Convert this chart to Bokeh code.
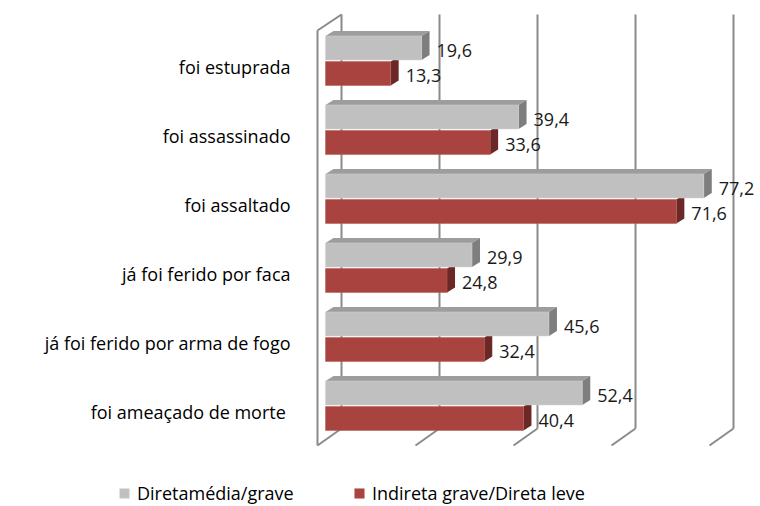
import numpy as np
from bokeh.plotting import figure
from bokeh.models import Range1d, Legend, LegendItem
from bokeh.core.properties import value
from bokeh.embed import file_html
from bokeh.resources import INLINE

# ---- data ----
categories = ["foi estuprada", "foi assassinado", "foi assaltado",
              "já foi ferido por faca", "já foi ferido por arma de fogo",
              "foi ameaçado  de morte"]
direta_media_grave = [19.6, 39.4, 77.2, 29.9, 45.6, 52.4]
indireta_grave_direta_leve = [13.3, 33.6, 71.6, 24.8, 32.4, 40.4]
series_names = ["Diretamédia/grave", "Indireta grave/Direta leve"]
grid_values = [0, 20, 40, 60, 80]

# ---- geometry (pixel scale of the value axis and of one category row) ----
PX_X = 4.9      # pixels per value unit
PX_ROW = 69.0   # pixels per category row
X0_PX = 325.0   # x of value 0 on the bars' front plane
Y0_PX = 60.5    # y of first category centre

def xd(px):
    return (px - X0_PX) / PX_X

def yd(py):
    return (py - Y0_PX) / PX_ROW

W, H = 760, 506
p = figure(width=W, height=H, output_backend="svg", toolbar_location=None,
           x_range=Range1d(xd(0), xd(W)), y_range=Range1d(yd(H), yd(0)),
           x_axis_type=None, y_axis_type=None, min_border=0)
p.outline_line_color = None
p.xgrid.visible = False
p.ygrid.visible = False
p.background_fill_color = "white"

FONT = "Open Sans"
GRID_COL = "#8a8a8a"

# ---- 3D walls and gridlines ----
back_off = xd(341)       # back wall zero offset
front_off = xd(317)      # front floor zero offset
yb_top, yb_bot, yf_bot, yf_top = yd(14), yd(428), yd(445), yd(30)
gv = np.array(grid_values, dtype=float)
p.segment(x0=gv + back_off, y0=[yb_top] * len(gv), x1=gv + back_off, y1=[yb_bot] * len(gv),
          line_color=GRID_COL, line_width=2)
p.segment(x0=gv + front_off, y0=[yf_bot] * len(gv), x1=gv + back_off, y1=[yb_bot] * len(gv),
          line_color=GRID_COL, line_width=2)
p.segment(x0=[front_off, front_off], y0=[yf_top, yf_top], x1=[front_off, back_off],
          y1=[yf_bot, yb_top], line_color=GRID_COL, line_width=2)

# ---- bars ----
rows = np.arange(len(categories), dtype=float)
bar_h = 24.0 / PX_ROW
gray_c = rows - 13.0 / PX_ROW
red_c = rows + 12.5 / PX_ROW
dx = 8.0 / PX_X
dy = 5.0 / PX_ROW

g_vals = np.array(direta_media_grave)
r_vals = np.array(indireta_grave_direta_leve)

GRAY_FRONT, GRAY_TOP, GRAY_SIDE = "#c0c0c0", "#9d9d9d", "#7e7e7e"
RED_FRONT, RED_SIDE = "#a8433f", "#6c2826"

def side_faces(vals, centres):
    xs, ys = [], []
    for v, c in zip(vals, centres):
        top, bot = c - bar_h / 2, c + bar_h / 2
        xs.append([v, v + dx, v + dx, v])
        ys.append([top, top - dy, bot - dy, bot])
    return xs, ys

def top_faces(vals, centres):
    xs, ys = [], []
    for v, c in zip(vals, centres):
        top = c - bar_h / 2
        xs.append([0, dx, v + dx, v])
        ys.append([top, top - dy, top - dy, top])
    return xs, ys

rx, ry = side_faces(r_vals, red_c)
p.patches(rx, ry, fill_color=RED_SIDE, line_color=None)
red_front = p.hbar(y=red_c, left=0, right=r_vals, height=bar_h,
                   fill_color=RED_FRONT, line_color="#b85a56", line_width=0.5)

tx, ty = top_faces(g_vals, gray_c)
p.patches(tx, ty, fill_color=GRAY_TOP, line_color=None)
gx, gy = side_faces(g_vals, gray_c)
p.patches(gx, gy, fill_color=GRAY_SIDE, line_color=None)
gray_front = p.hbar(y=gray_c, left=0, right=g_vals, height=bar_h,
                    fill_color=GRAY_FRONT, line_color="#d0d0d0", line_width=0.5)

# ---- value labels ----
lab_dx = 15.0 / PX_X
fmt = lambda v: f"{v:.1f}".replace(".", ",")
p.text(x=g_vals + lab_dx, y=rows - 10.5 / PX_ROW, text=[fmt(v) for v in g_vals],
       text_align="left", text_baseline="middle", text_font=value(FONT),
       text_font_size="18px", text_color="#1a1a1a")
p.text(x=r_vals + lab_dx, y=rows + 14.0 / PX_ROW, text=[fmt(v) for v in r_vals],
       text_align="left", text_baseline="middle", text_font=value(FONT),
       text_font_size="18px", text_color="#1a1a1a")

# ---- category labels ----
p.text(x=[xd(290)] * len(categories), y=rows + 6.0 / PX_ROW, text=categories,
       text_align="right", text_baseline="middle", text_font=value(FONT),
       text_font_size="18px", text_color="#000000")

# ---- legend ----
def make_legend(label, renderer, x):
    leg = Legend(items=[LegendItem(label=label, renderers=[renderer])],
                 location=(x, 1), orientation="horizontal",
                 glyph_width=12, glyph_height=12, label_standoff=7,
                 padding=0, margin=0, border_line_alpha=0, background_fill_alpha=0,
                 label_text_font=FONT, label_text_font_size="18px",
                 label_text_color="#000000", label_height=18)
    p.add_layout(leg)

make_legend(series_names[0], gray_front, 118)
make_legend(series_names[1], red_front, 353)

open("out.html", "w").write(file_html(p, INLINE))
